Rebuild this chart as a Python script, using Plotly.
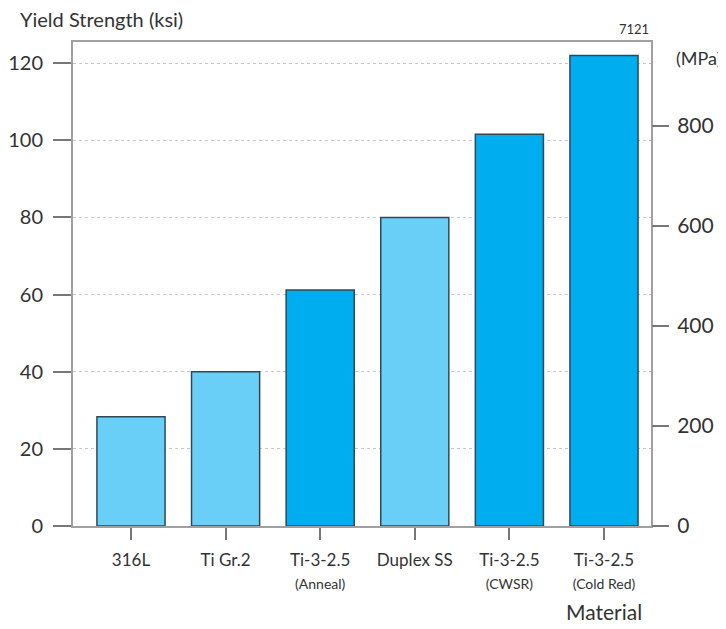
import plotly.graph_objects as go

categories = ["316L", "Ti Gr.2", "Ti-3-2.5 (Anneal)", "Duplex SS", "Ti-3-2.5 (CWSR)", "Ti-3-2.5 (Cold Red)"]
tick_main = ["316L", "Ti Gr.2", "Ti-3-2.5", "Duplex SS", "Ti-3-2.5", "Ti-3-2.5"]
tick_sub = ["", "", "(Anneal)", "", "(CWSR)", "(Cold Red)"]
yield_ksi = [28.3, 40, 61.2, 80, 101.6, 122]
bar_colors = ["#6ACFF6", "#6ACFF6", "#00AEEF", "#6ACFF6", "#00AEEF", "#00AEEF"]
ksi_ticks = [0, 20, 40, 60, 80, 100, 120]
mpa_ticks = [0, 200, 400, 600, 800]

ticktext = [m if not s else f"{m}<br><span style='font-size:14px'>{s}</span>" for m, s in zip(tick_main, tick_sub)]

FONT = "Lato"
TXT = "#333333"
FRAME = "#a0a0a0"

# page body has an 8px default margin; shrink figure so plot area lands where reference has it
OFF = 8
W, H = 726 - OFF, 629 - OFF
L, T, R, B = 73 - OFF, 42 - OFF, 75, 103
PW, PH = 578, 484

fig = go.Figure()
fig.add_trace(go.Bar(
    x=list(range(len(categories))), y=yield_ksi, width=0.72,
    marker=dict(color=bar_colors, line=dict(color="#2f4858", width=1.5)),
    hovertext=categories, showlegend=False,
))
# invisible trace to anchor MPa axis
fig.add_trace(go.Scatter(x=[0], y=[0], yaxis="y2", mode="none", showlegend=False, hoverinfo="skip"))

fig.update_layout(
    width=W, height=H,
    margin=dict(l=L, r=R, t=T, b=B),
    paper_bgcolor="white", plot_bgcolor="white",
    font=dict(family=FONT, color=TXT),
    xaxis=dict(
        range=[-0.613, 5.497], tickmode="array", tickvals=list(range(len(categories))),
        ticktext=ticktext, ticks="outside", ticklen=12, tickcolor="#777", tickwidth=1.5,
        showline=True, linecolor=FRAME, linewidth=2, mirror=True,
        tickfont=dict(size=17, color=TXT), showgrid=False, zeroline=False,
        ticklabelstandoff=6, automargin=False,
    ),
    yaxis=dict(
        range=[0, 125.5], tickvals=ksi_ticks, ticks="outside", ticklen=18,
        tickcolor="#777", tickwidth=1.5,
        showline=True, linecolor=FRAME, linewidth=2, mirror=True,
        showgrid=True, gridcolor="#c8c8c8", griddash="dot", gridwidth=1,
        zeroline=False, tickfont=dict(size=20, color=TXT), ticklabelstandoff=6,
        automargin=False,
    ),
    yaxis2=dict(
        overlaying="y", side="right", range=[0, 968], tickvals=mpa_ticks,
        ticks="outside", ticklen=17, tickcolor="#777", tickwidth=1.5,
        showgrid=False, zeroline=False, showline=False,
        tickfont=dict(size=21, color=TXT), ticklabelstandoff=4, automargin=False,
    ),
    annotations=[
        dict(text="Yield Strength (ksi)", xref="paper", yref="paper", x=-(73-18)/PW, y=1 + (42-19)/PH,
             xanchor="left", yanchor="middle", showarrow=False, font=dict(size=20, color=TXT)),
        dict(text="7121", xref="paper", yref="paper", x=1, y=1 + (42-29)/PH,
             xanchor="right", yanchor="middle", showarrow=False, font=dict(size=13, color=TXT)),
        dict(text="(MPa)", xref="paper", yref="paper", x=1 + (674-651)/PW, y=1 - (58-42)/PH,
             xanchor="left", yanchor="middle", showarrow=False, font=dict(size=18, color=TXT)),
        dict(text="Material", xref="paper", yref="paper", x=(604-73)/PW, y=-(611-526)/PH,
             xanchor="center", yanchor="middle", showarrow=False, font=dict(size=21, color=TXT)),
    ],
)

fig.write_html("out.html")
